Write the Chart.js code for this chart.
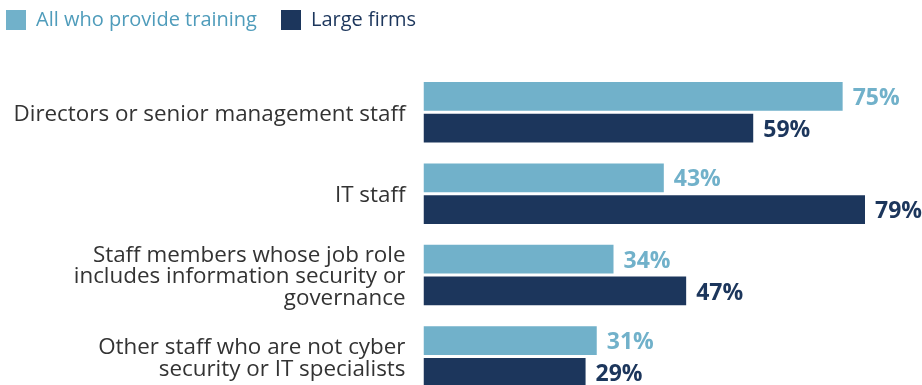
<!DOCTYPE html>
<html>
<head>
<meta charset="utf-8">
<script src="https://cdn.jsdelivr.net/npm/chart.js@4"></script>
<style>
  html, body { margin: 0; padding: 0; background: #fff; overflow: hidden; }
  #wrap { position: relative; width: 922px; height: 426px; }
</style>
</head>
<body>
<div id="wrap"><canvas id="training-chart"></canvas></div>
<script>
// who gets cyber security training (% of firms)
const categories = [
  'Directors or senior management staff',
  'IT staff',
  ['Staff members whose job role', 'includes information security or', 'governance'],
  ['Other staff who are not cyber', 'security or IT specialists']
];
const seriesNames = ['All who provide training', 'Large firms'];
const allFirms = [75, 43, 34, 31];
const largeFirms = [59, 79, 47, 29];

const lightBlue = '#71b1ca';
const navy = '#1c365c';

Chart.defaults.font.family = "'Open Sans', sans-serif";

// value labels at the end of each bar
const barLabels = {
  id: 'barLabels',
  afterDatasetsDraw(chart) {
    const ctx = chart.ctx;
    ctx.save();
    ctx.font = "bold 23px 'Open Sans', sans-serif";
    ctx.textBaseline = 'middle';
    ctx.textAlign = 'left';
    chart.data.datasets.forEach((ds, i) => {
      chart.getDatasetMeta(i).data.forEach((bar, j) => {
        ctx.fillStyle = ds.backgroundColor;
        ctx.fillText(ds.data[j] + '%', bar.x + 10, bar.y + 2);
      });
    });
    ctx.restore();
  }
};

// pull the legend up into the top-left corner
const legendSpot = {
  id: 'legendSpot',
  afterLayout(chart) {
    const pad = chart.legend.options.labels.padding;
    chart.legend.left = 6 - pad;
    chart.legend.top = 10 - pad;
  }
};

let ctx = document.getElementById('training-chart').getContext('2d');
let chart = new Chart(ctx, {
  type: 'bar',
  data: {
    labels: categories,
    datasets: [{
      label: seriesNames[0],
      data: allFirms,
      backgroundColor: lightBlue,
      borderWidth: 0,
      categoryPercentage: 0.78,
      barPercentage: 0.905
    }, {
      label: seriesNames[1],
      data: largeFirms,
      backgroundColor: navy,
      borderWidth: 0,
      categoryPercentage: 0.78,
      barPercentage: 0.905
    }]
  },
  options: {
    indexAxis: 'y',
    responsive: true,
    maintainAspectRatio: false,
    animation: false,
    layout: { padding: 0 },
    plugins: {
      tooltip: { enabled: false },
      legend: {
        position: 'top',
        align: 'start',
        labels: {
          boxWidth: 20,
          boxHeight: 20,
          padding: 24,
          font: { size: 20 },
          generateLabels(chart) {
            const items = Chart.defaults.plugins.legend.labels.generateLabels(chart);
            items.forEach((it, i) => {
              it.fontColor = i === 0 ? '#4f9cbb' : navy;
            });
            return items;
          }
        }
      }
    },
    scales: {
      x: {
        position: 'top',
        min: 0,
        max: 89.2,
        grid: { display: false, drawTicks: false },
        border: { display: false },
        ticks: { display: false },
        afterFit(scale) { scale.height = 17.5; }
      },
      y: {
        grid: { display: false, drawTicks: false },
        border: { display: false },
        ticks: {
          color: '#333333',
          padding: 18,
          labelOffset: 2,
          font: { size: 22.4, lineHeight: 0.96 }
        },
        afterFit(scale) { scale.width = 423.5; }
      }
    }
  },
  plugins: [barLabels, legendSpot]
});
</script>
</body>
</html>
